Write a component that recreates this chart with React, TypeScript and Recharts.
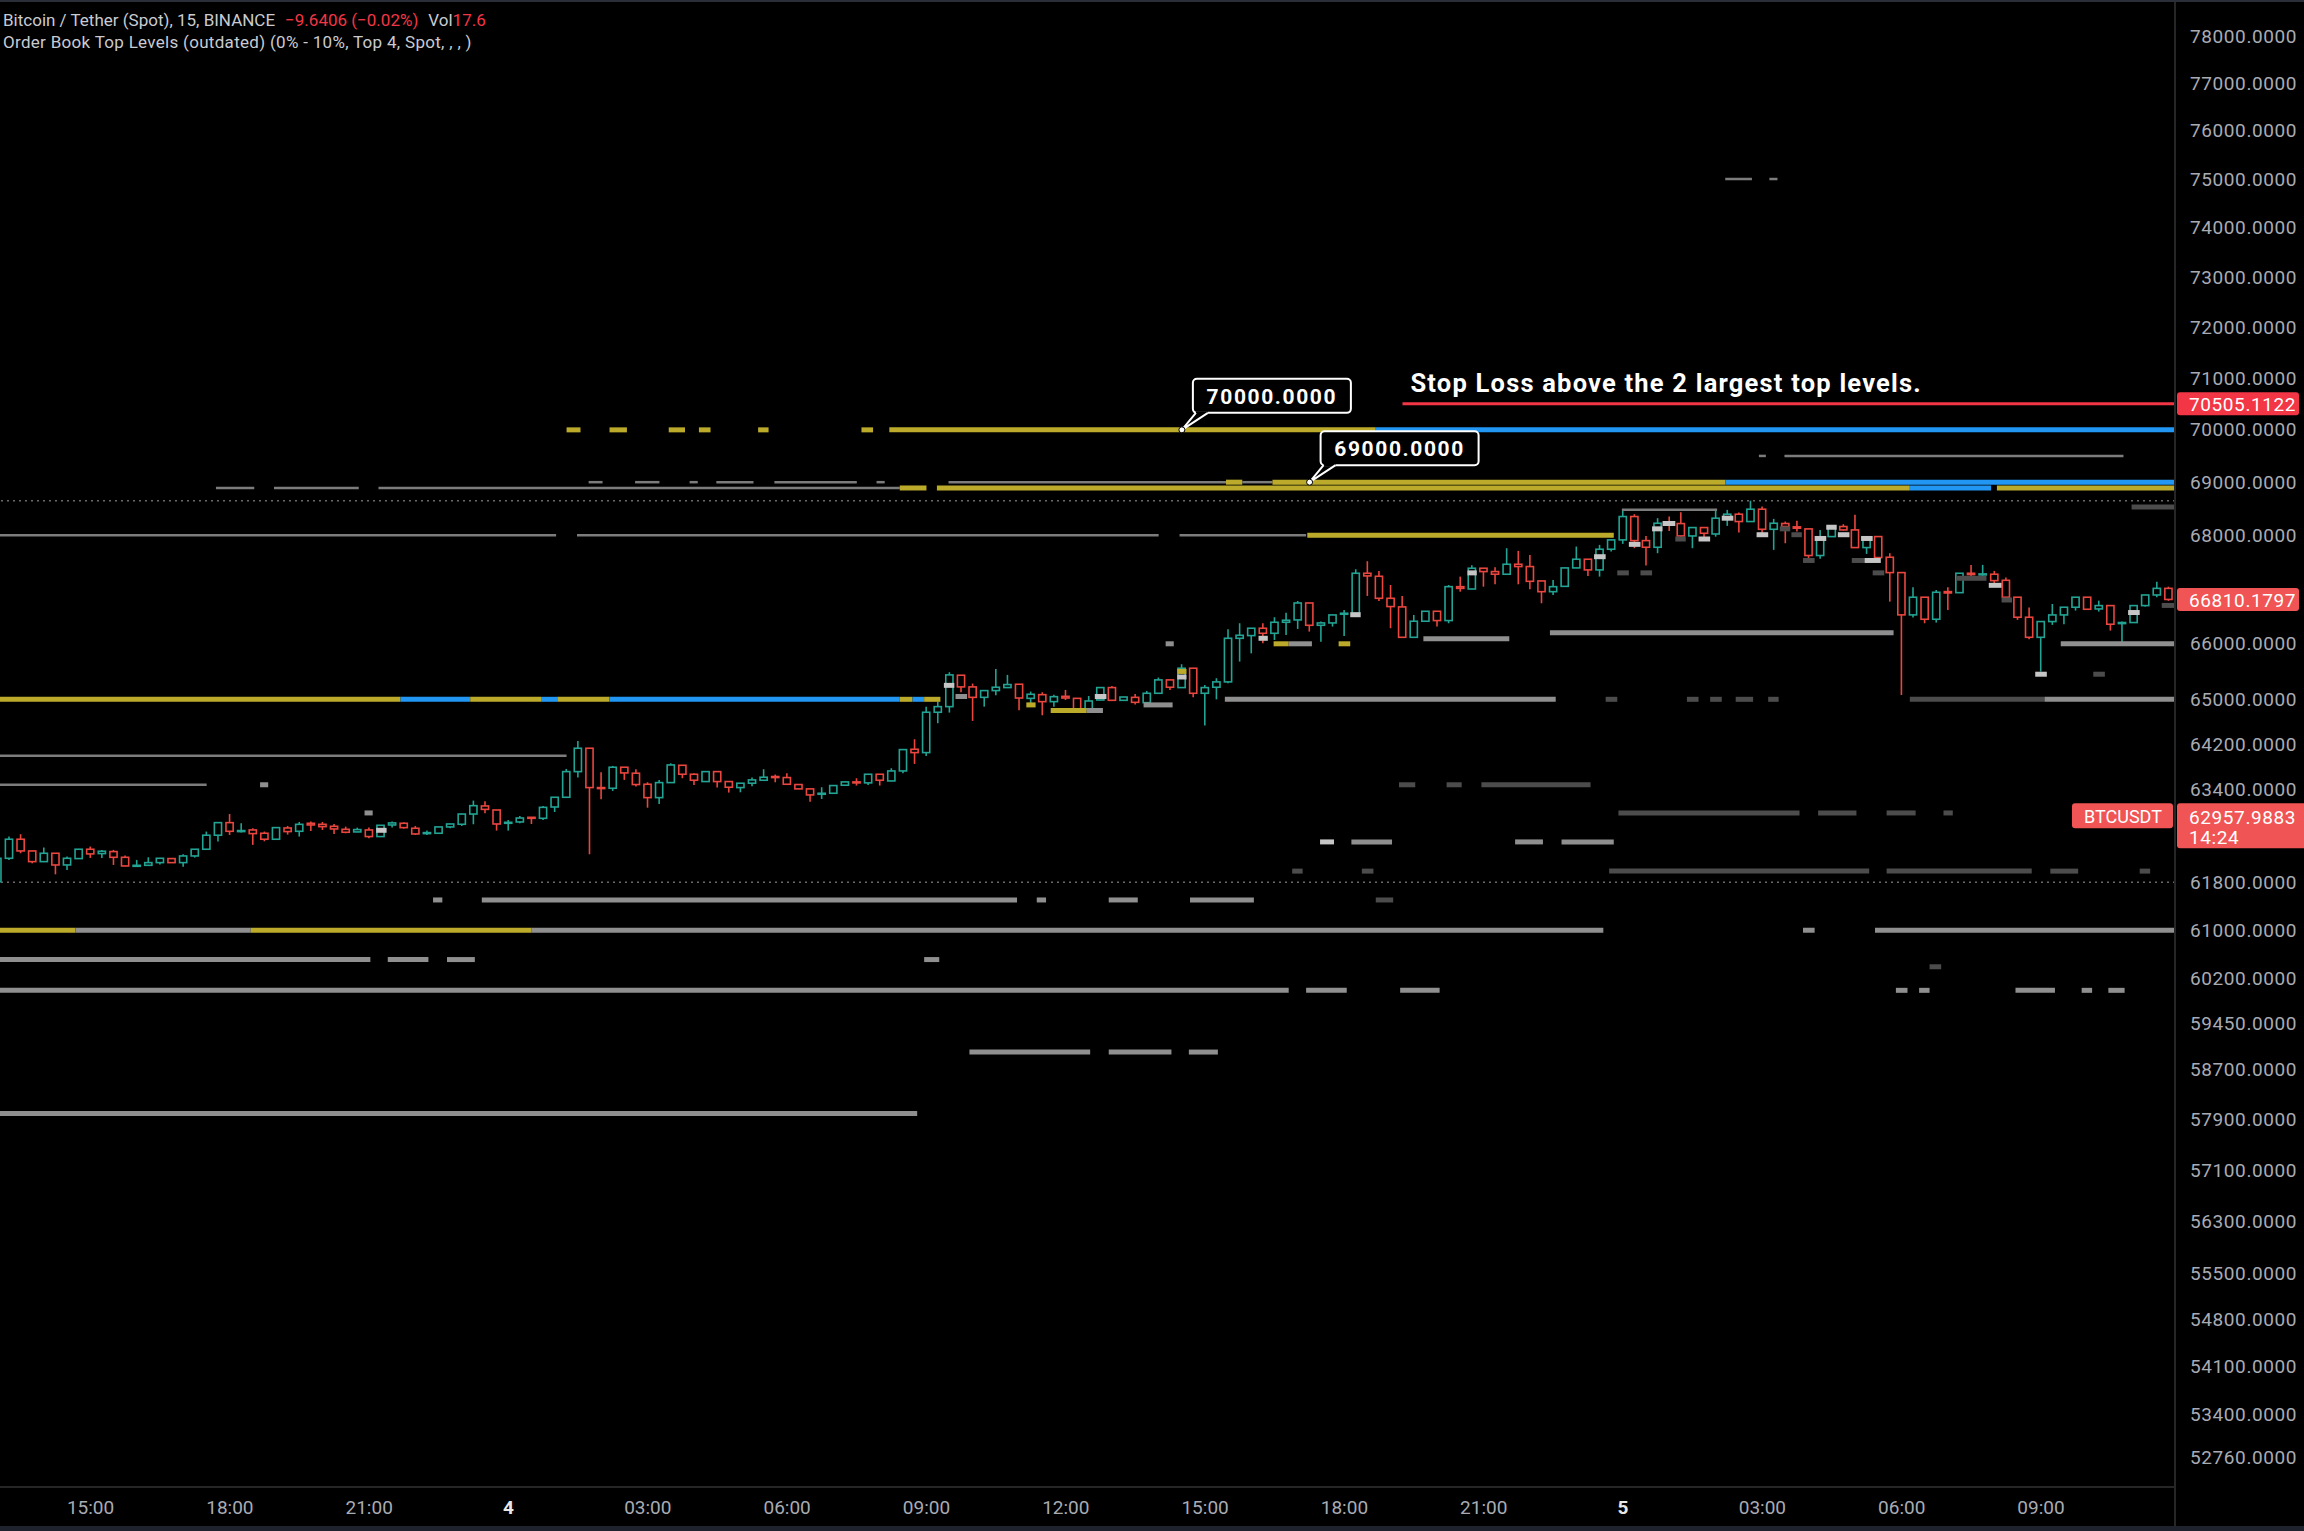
import { ComposedChart, Bar, XAxis, YAxis, ReferenceLine, ReferenceDot } from 'recharts';

// 15m BTCUSDT candles, first bar = day 3 13:00 (bar index -44, index 0 = day 4 00:00)
const FIRST_BAR = -44;
// [open, high, low, close]
const CANDLES: [number, number, number, number][] = [
  [61819, 62222, 61802, 62219], [62219, 62592, 62191, 62546], [62546, 62632, 62305, 62345], [62345, 62350, 62133, 62162],
  [62162, 62403, 62160, 62305], [62305, 62310, 61945, 62105], [62105, 62248, 62019, 62219], [62214, 62380, 62210, 62374],
  [62374, 62420, 62225, 62294], [62300, 62363, 62225, 62340], [62334, 62363, 62105, 62236], [62236, 62265, 62085, 62088],
  [62088, 62191, 62085, 62099], [62099, 62236, 62095, 62145], [62145, 62222, 62111, 62219], [62214, 62218, 62140, 62145],
  [62145, 62288, 62076, 62259], [62259, 62378, 62231, 62374], [62374, 62678, 62370, 62615], [62615, 62836, 62506, 62832],
  [62832, 62981, 62620, 62683], [62683, 62821, 62660, 62695], [62706, 62735, 62449, 62643], [62649, 62678, 62511, 62546],
  [62546, 62750, 62540, 62746], [62740, 62775, 62626, 62678], [62683, 62844, 62592, 62803], [62821, 62850, 62689, 62792],
  [62803, 62844, 62706, 62763], [62769, 62809, 62637, 62723], [62717, 62763, 62649, 62666], [62672, 62746, 62668, 62712],
  [62706, 62746, 62563, 62592], [62592, 62790, 62588, 62786], [62792, 62850, 62746, 62827], [62821, 62838, 62729, 62746],
  [62735, 62775, 62620, 62637], [62649, 62695, 62620, 62660], [62649, 62762, 62645, 62758], [62758, 62812, 62735, 62809],
  [62804, 62985, 62775, 62981], [62981, 63214, 62804, 63126], [63121, 63202, 62993, 63062], [63051, 63055, 62695, 62809],
  [62821, 62878, 62695, 62838], [62844, 62947, 62821, 62912], [62924, 62928, 62809, 62907], [62907, 63121, 62878, 63097],
  [63103, 63276, 63016, 63272], [63272, 63767, 63268, 63720], [63720, 64261, 63616, 64131], [64131, 64135, 62288, 63441],
  [63441, 63709, 63237, 63424], [63429, 63820, 63383, 63797], [63797, 63800, 63575, 63697], [63692, 63762, 63459, 63494],
  [63499, 63534, 63091, 63266], [63266, 63575, 63156, 63528], [63528, 63866, 63524, 63837], [63831, 63835, 63604, 63674],
  [63674, 63692, 63488, 63569], [63546, 63724, 63542, 63720], [63720, 63724, 63441, 63546], [63546, 63550, 63354, 63447],
  [63441, 63520, 63359, 63517], [63517, 63616, 63465, 63575], [63569, 63762, 63565, 63622], [63634, 63668, 63534, 63616],
  [63616, 63692, 63495, 63499], [63494, 63498, 63414, 63418], [63418, 63420, 63196, 63313], [63325, 63447, 63243, 63342],
  [63342, 63480, 63338, 63476], [63482, 63544, 63478, 63540], [63540, 63604, 63476, 63523], [63523, 63678, 63488, 63674],
  [63674, 63678, 63476, 63569], [63557, 63779, 63553, 63732], [63732, 64111, 63692, 64107], [64113, 64290, 63855, 64054],
  [64054, 64869, 63995, 64769], [64769, 64958, 64574, 64869], [64869, 65486, 64763, 65438], [65432, 65436, 65126, 65222],
  [65222, 65282, 64615, 65035], [65035, 65160, 64869, 65156], [65156, 65546, 65071, 65216], [65210, 65438, 65206, 65264],
  [65270, 65274, 64804, 65023], [65017, 65138, 64869, 65090], [65083, 65126, 64715, 64958], [64958, 65083, 64869, 65047],
  [65053, 65168, 64988, 65023], [65017, 65020, 64798, 64828], [64828, 65059, 64824, 64970], [64988, 65214, 64984, 65210],
  [65210, 65240, 64978, 64982], [64982, 65045, 64978, 65041], [65035, 65095, 64905, 64946], [64940, 65150, 64936, 65108],
  [65108, 65390, 65104, 65348], [65348, 65352, 65168, 65216], [65210, 65630, 65206, 65558], [65558, 65562, 65035, 65108],
  [65108, 65258, 64532, 65210], [65216, 65378, 64999, 65312], [65312, 66264, 65288, 66100], [66100, 66374, 65678, 66155],
  [66149, 66287, 65827, 66283], [66283, 66374, 66009, 66191], [66191, 66484, 66069, 66392], [66392, 66568, 66161, 66429],
  [66435, 66782, 66270, 66745], [66745, 66749, 66222, 66337], [66337, 66405, 66039, 66380], [66380, 66530, 66313, 66526],
  [66539, 66618, 66143, 66557], [66557, 67367, 66553, 67293], [67293, 67516, 66874, 67244], [67237, 67336, 66783, 66831],
  [66831, 67076, 66283, 66679], [66673, 66874, 66114, 66118], [66118, 66526, 66114, 66411], [66411, 66597, 66407, 66593],
  [66593, 66597, 66313, 66423], [66423, 67076, 66374, 67045], [67045, 67231, 66953, 67014], [67002, 67442, 66998, 67386],
  [67386, 67390, 67045, 67324], [67324, 67405, 67089, 67275], [67275, 67758, 67271, 67460], [67460, 67708, 67089, 67417],
  [67417, 67634, 66996, 67144], [67151, 67155, 66740, 66953], [66953, 67169, 66892, 67045], [67051, 67396, 67047, 67392],
  [67392, 67789, 67388, 67553], [67553, 67557, 67244, 67355], [67355, 67820, 67231, 67739], [67739, 67917, 67696, 67913],
  [67913, 68495, 67839, 68351], [68351, 68395, 67758, 67900], [67900, 67987, 67435, 67776], [67776, 68320, 67665, 68225],
  [68238, 68351, 68080, 68213], [68219, 68432, 67925, 67987], [67987, 68148, 67758, 68144], [68144, 68148, 67913, 68037],
  [68024, 68495, 67974, 68320], [68338, 68476, 68175, 68395], [68395, 68426, 68050, 68257], [68257, 68650, 68253, 68489],
  [68489, 68539, 68018, 68112], [68112, 68307, 67727, 68225], [68220, 68257, 67851, 68163], [68157, 68270, 68069, 68132],
  [68119, 68123, 67529, 67622], [67622, 68100, 67560, 67963], [67975, 68167, 67971, 68163], [68163, 68207, 68088, 68100],
  [68100, 68383, 67766, 67770], [67770, 67967, 67652, 67963], [67975, 67979, 67580, 67584], [67590, 67665, 66770, 67305],
  [67305, 67309, 65077, 66527], [66527, 67033, 66478, 66851], [66851, 66855, 66374, 66447], [66447, 66984, 66386, 66942],
  [66954, 67033, 66618, 66929], [66935, 67297, 66931, 67293], [67293, 67448, 67182, 67268], [67262, 67448, 67169, 67281],
  [67275, 67336, 67058, 67157], [67163, 67213, 66847, 66851], [66851, 66855, 66435, 66484], [66484, 66660, 66082, 66118],
  [66118, 66409, 65498, 66405], [66405, 66727, 66344, 66526], [66526, 66671, 66356, 66667], [66667, 66855, 66606, 66851],
  [66851, 66855, 66626, 66630], [66636, 66788, 66587, 66697], [66697, 66701, 66240, 66356], [66368, 66405, 66021, 66387],
  [66387, 66701, 66383, 66697], [66697, 66896, 66679, 66892], [66892, 67138, 66851, 67014], [67014, 67045, 66784, 66810.1797],
];

// order book levels: [price, fromBar, toBar, kind]
// Y yellow, B blue, G gray, W light, D dark, g thin gray
const LEVELS: [number, number, number, string][] = [
  [75000, 104.8, 107.1, 'g'], [75000, 108.6, 109.3, 'g'],
  [70000, 5.0, 6.2, 'Y'], [70000, 8.7, 10.2, 'Y'], [70000, 13.8, 15.2, 'Y'], [70000, 16.4, 17.4, 'Y'],
  [70000, 21.5, 22.4, 'Y'], [70000, 30.4, 31.4, 'Y'], [70000, 32.8, 74.7, 'Y'], [70000, 74.7, 143.5, 'B'],
  [69500, 107.7, 108.3, 'g'], [69500, 109.9, 139.1, 'g'],
  [69000, 6.9, 8.1, 'g'], [69000, 10.9, 13.0, 'g'], [69000, 15.6, 16.3, 'g'], [69000, 17.9, 21.1, 'g'],
  [69000, 22.9, 30.0, 'g'], [69000, 31.7, 32.4, 'g'], [69000, 37.9, 61.8, 'g'], [69000, 61.8, 63.2, 'Y'],
  [69000, 63.2, 65.8, 'g'], [69000, 65.8, 104.8, 'Y'], [69000, 104.8, 143.5, 'B'],
  [68890, -25.2, -21.9, 'g'], [68890, -20.2, -12.9, 'g'], [68890, -11.2, 33.7, 'g'], [68890, 33.7, 36.0, 'Y'],
  [68890, 36.9, 120.7, 'Y'], [68890, 120.7, 127.7, 'B'], [68890, 128.2, 143.5, 'Y'],
  [68530, 139.8, 143.5, 'D'], [68480, 95.9, 104.1, 'g'],
  [68000, -43.8, 4.1, 'g'], [68000, 5.9, 56.0, 'g'], [68000, 57.8, 68.7, 'g'], [68000, 68.8, 95.2, 'Y'],
  [66200, 89.7, 119.3, 'G'], [66090, 78.8, 86.2, 'G'],
  [66000, 56.6, 57.3, 'G'], [66000, 65.9, 67.2, 'Y'], [66000, 67.2, 69.2, 'G'], [66000, 71.5, 72.5, 'Y'], [66000, 133.7, 143.5, 'G'],
  [65000, -43.8, -9.3, 'Y'], [65000, -9.3, -3.3, 'B'], [65000, -3.3, 2.8, 'Y'], [65000, 2.8, 4.2, 'B'],
  [65000, 4.2, 8.7, 'Y'], [65000, 8.7, 33.7, 'B'], [65000, 33.7, 34.8, 'Y'], [65000, 34.8, 35.8, 'B'], [65000, 35.8, 37.2, 'Y'],
  [65000, 61.7, 90.2, 'G'], [65000, 94.5, 95.5, 'D'], [65000, 101.5, 102.5, 'D'], [65000, 103.5, 104.5, 'D'],
  [65000, 105.7, 107.2, 'D'], [65000, 108.5, 109.4, 'D'], [65000, 120.7, 132.3, 'D'], [65000, 132.3, 143.5, 'G'],
  [64000, -43.8, 5.0, 'g'],
  [63490, -43.8, -26.0, 'g'], [63490, -21.4, -20.7, 'G'], [63490, 76.7, 78.1, 'D'], [63490, 80.8, 82.1, 'D'], [63490, 83.8, 93.2, 'D'],
  [63000, -12.4, -11.7, 'G'], [63000, 95.6, 111.2, 'D'], [63000, 112.8, 116.1, 'D'], [63000, 118.7, 121.2, 'D'], [63000, 123.6, 124.4, 'D'],
  [62700, -11.4, -10.5, 'W'],
  [62500, 69.9, 71.1, 'W'], [62500, 72.6, 76.1, 'G'], [62500, 86.7, 89.1, 'G'], [62500, 90.7, 95.2, 'G'],
  [62000, 67.5, 68.4, 'D'], [62000, 73.5, 74.5, 'D'], [62000, 94.8, 117.2, 'D'], [62000, 118.7, 131.2, 'D'],
  [62000, 132.8, 135.2, 'D'], [62000, 140.5, 141.4, 'D'],
  [61510, -6.5, -5.7, 'G'], [61510, -2.3, 43.8, 'G'], [61510, 45.5, 46.3, 'G'], [61510, 51.7, 54.2, 'G'],
  [61510, 58.7, 64.2, 'G'], [61510, 74.7, 76.2, 'D'],
  [61000, -43.8, -37.3, 'Y'], [61000, -37.3, -22.2, 'G'], [61000, -22.2, 2.0, 'Y'], [61000, 2.0, 94.3, 'G'],
  [61000, 111.5, 112.5, 'G'], [61000, 117.7, 143.5, 'G'],
  [60510, -43.8, -11.9, 'G'], [60510, -10.4, -6.9, 'G'], [60510, -5.3, -2.9, 'G'], [60510, 35.8, 37.1, 'G'],
  [60390, 122.4, 123.4, 'D'],
  [60000, -43.8, 67.2, 'G'], [60000, 68.7, 72.2, 'G'], [60000, 76.8, 80.2, 'G'], [60000, 119.5, 120.5, 'G'],
  [60000, 121.5, 122.4, 'G'], [60000, 129.8, 133.2, 'G'], [60000, 135.5, 136.4, 'G'], [60000, 137.8, 139.2, 'G'],
  [58990, 39.7, 50.1, 'G'], [58990, 51.7, 57.1, 'G'], [58990, 58.6, 61.1, 'G'],
  [58000, -43.8, 35.2, 'G'],
  // short levels sitting on the candles
  [65250, 37.5, 38.4, 'W'], [65050, 38.5, 39.5, 'G'], [64900, 44.6, 45.4, 'Y'], [64800, 46.7, 49.8, 'Y'],
  [64800, 49.8, 51.2, 'G'], [65050, 50.5, 51.5, 'W'], [64900, 54.7, 57.2, 'G'], [65500, 57.6, 58.4, 'Y'],
  [65400, 57.6, 58.4, 'W'], [66100, 64.6, 65.4, 'W'], [66530, 72.5, 73.4, 'W'], [67300, 82.6, 83.4, 'W'],
  [67600, 93.5, 94.5, 'W'], [67300, 95.5, 96.5, 'D'], [67830, 96.5, 97.5, 'W'], [67300, 97.5, 98.5, 'D'],
  [68120, 98.5, 99.4, 'W'], [68220, 99.4, 100.5, 'W'], [67930, 100.5, 101.4, 'D'], [67930, 102.5, 103.5, 'W'],
  [68320, 104.5, 105.5, 'W'], [68010, 107.5, 108.5, 'W'], [68120, 109.5, 110.4, 'D'], [68010, 110.5, 111.4, 'D'],
  [67530, 111.5, 112.5, 'D'], [67940, 112.5, 113.5, 'W'], [68150, 113.5, 114.4, 'W'], [68010, 114.5, 115.5, 'W'],
  [67530, 115.7, 116.8, 'D'], [67530, 116.8, 118.2, 'W'], [67940, 116.5, 117.5, 'W'], [67300, 117.5, 118.5, 'D'],
  [67200, 124.7, 127.3, 'D'], [67070, 127.5, 128.6, 'W'], [66800, 128.6, 129.5, 'D'], [65450, 131.5, 132.5, 'W'],
  [65450, 136.5, 137.5, 'D'], [66570, 139.5, 140.5, 'W'], [66700, 142.4, 143.5, 'D'],
];

const PRICE_TICKS = [
  78000, 77000, 76000, 75000, 74000, 73000, 72000, 71000, 70000, 69000, 68000, 66000, 65000, 64200,
  63400, 61800, 61000, 60200, 59450, 58700, 57900, 57100, 56300, 55500, 54800, 54100, 53400, 52760,
];
const TIME_TICKS = [-36, -24, -12, 0, 12, 24, 36, 48, 60, 72, 84, 96, 108, 120, 132];
const TIME_LABELS = ['15:00', '18:00', '21:00', '4', '03:00', '06:00', '09:00', '12:00', '15:00', '18:00', '21:00', '5', '03:00', '06:00', '09:00'];

const STOP_LOSS = 70505.1122;
const STOP_FROM = 77;
const LAST_PRICE = 66810.1797;
const CURRENT_PRICE = 62957.9883;
const RANGE_HIGH = 68650;
const RANGE_LOW = 61811;
const CALLOUTS = [
  { bar: 58, price: 70000 },
  { bar: 69, price: 69000 },
];

const UP = '#22a393';
const DOWN = '#e8463f';
const KIND_STYLE: Record<string, { color: string; width: number }> = {
  Y: { color: '#bcab2b', width: 5 },
  B: { color: '#2196f3', width: 5 },
  G: { color: '#8f8f8f', width: 5 },
  W: { color: '#c6c6c6', width: 5 },
  D: { color: '#4c4c4c', width: 5 },
  g: { color: '#7c7c7c', width: 2.5 },
};

const FONT = 'Roboto, "Liberation Sans", sans-serif';

const data = CANDLES.map(([o, h, l, c], i) => ({ bar: FIRST_BAR + i, o, h, l, c, range: [l, h] }));

function Candle(props: any) {
  const { x, y, width, height, payload } = props;
  const { o, h, l, c } = payload;
  const top = Math.min(y, y + height);
  const bot = Math.max(y, y + height);
  const lh = Math.log(h);
  const ll = Math.log(l);
  // log scale: place open/close between the high and low pixels
  const py = (v: number) => (lh === ll ? top : top + ((bot - top) * (lh - Math.log(v))) / (lh - ll));
  const cx = x + width / 2;
  const color = c >= o ? UP : DOWN;
  const bt = py(Math.max(o, c));
  const bb = py(Math.min(o, c));
  return (
    <g>
      <line x1={cx} x2={cx} y1={top} y2={bt} stroke={color} strokeWidth={1.6} />
      <line x1={cx} x2={cx} y1={bb} y2={bot} stroke={color} strokeWidth={1.6} />
      <rect x={cx - 3.6} y={bt} width={7.2} height={Math.max(bb - bt, 1)} fill="#000" stroke={color} strokeWidth={1.6} />
    </g>
  );
}

function PriceTick({ x, y, payload }: any) {
  return (
    <text x={x + 7} y={y} fill="#a9abb3" fontSize={19} fontFamily={FONT} letterSpacing={0.6} dominantBaseline="central">
      {payload.value.toFixed(4)}
    </text>
  );
}

function TimeTick({ x, y, payload }: any) {
  const label = TIME_LABELS[TIME_TICKS.indexOf(payload.value)];
  const isDay = label.length === 1;
  return (
    <text x={x} y={y + 12} fill={isDay ? '#e8e8e8' : '#a9abb3'} fontSize={19} fontWeight={isDay ? 700 : 400}
      fontFamily={FONT} textAnchor="middle" dominantBaseline="central">
      {label}
    </text>
  );
}

function Tag({ viewBox, text, color }: any) {
  const right = viewBox.x + viewBox.width;
  const y = viewBox.y;
  return (
    <g>
      <rect x={right + 2} y={y - 11.5} width={122} height={23} rx={3} fill={color} />
      <text x={right + 14} y={y + 1} fill="#fff" fontSize={19} fontFamily={FONT} letterSpacing={0.6} dominantBaseline="central">
        {text}
      </text>
    </g>
  );
}

function StopLossLabel({ viewBox }: any) {
  const left = viewBox.x;
  const right = viewBox.x + viewBox.width;
  const y = viewBox.y;
  return (
    <g>
      <text x={left + 8} y={y - 12} fill="#fff" fontSize={25.5} fontWeight={700} fontFamily={FONT} letterSpacing={1.2}>
        Stop Loss above the 2 largest top levels.
      </text>
      <rect x={right + 2} y={y - 11.5} width={122} height={23} rx={3} fill="#f23645" />
      <text x={right + 14} y={y + 1} fill="#fff" fontSize={19} fontFamily={FONT} letterSpacing={0.6} dominantBaseline="central">
        {STOP_LOSS.toFixed(4)}
      </text>
    </g>
  );
}

function CurrentPriceLabel({ viewBox }: any) {
  const right = viewBox.x + viewBox.width;
  const y = viewBox.y;
  return (
    <g>
      <rect x={right - 103} y={y - 12} width={101} height={25} rx={3} fill="#f05454" />
      <text x={right - 52} y={y + 1} fill="#fff" fontSize={18} fontFamily={FONT} textAnchor="middle" dominantBaseline="central">
        BTCUSDT
      </text>
      <rect x={right + 2} y={y - 12} width={140} height={45} rx={3} fill="#f05454" />
      <text x={right + 14} y={y + 2} fill="#fff" fontSize={19} fontFamily={FONT} letterSpacing={0.6} dominantBaseline="central">
        {CURRENT_PRICE.toFixed(4)}
      </text>
      <text x={right + 14} y={y + 22} fill="#fff" fontSize={19} fontFamily={FONT} letterSpacing={0.6} dominantBaseline="central">
        14:24
      </text>
    </g>
  );
}

function Callout({ cx, cy, text }: any) {
  return (
    <g>
      <rect x={cx + 11} y={cy - 51} width={158} height={34} rx={4} fill="#000" stroke="#fff" strokeWidth={2} />
      <line x1={cx + 14} x2={cx + 26} y1={cy - 17} y2={cy - 17} stroke="#000" strokeWidth={3} />
      <polyline points={`${cx + 14},${cy - 17} ${cx},${cy} ${cx + 26},${cy - 17}`} fill="none" stroke="#fff" strokeWidth={2} />
      <circle cx={cx} cy={cy} r={3} fill="#fff" stroke="#000" strokeWidth={1} />
      <text x={cx + 90} y={cy - 33} fill="#fff" fontSize={21} fontWeight={700} fontFamily={FONT} letterSpacing={1.6}
        textAnchor="middle" dominantBaseline="central">
        {text}
      </text>
    </g>
  );
}

export default function App() {
  return (
    <div style={{ position: 'absolute', left: 0, top: 0, width: 2304, height: 1531, background: '#000', overflow: 'hidden' }}>
      <ComposedChart width={2304} height={1531} data={data} margin={{ top: 0, right: 0, bottom: 0, left: 0 }}>
        <XAxis
          dataKey="bar"
          type="number"
          domain={[-43.8, 143.54]}
          allowDataOverflow
          ticks={TIME_TICKS}
          interval={0}
          height={44}
          axisLine={{ stroke: '#262626', strokeWidth: 2 }}
          tickLine={false}
          tick={<TimeTick />}
        />
        <YAxis
          orientation="right"
          type="number"
          scale="log"
          domain={[52339, 78785]}
          allowDataOverflow
          ticks={PRICE_TICKS}
          interval={0}
          width={129}
          axisLine={{ stroke: '#262626', strokeWidth: 2 }}
          tickLine={false}
          tick={<PriceTick />}
        />
        <ReferenceLine y={RANGE_HIGH} stroke="#6a6a6a" strokeWidth={1.5} strokeDasharray="2 4" />
        <ReferenceLine y={RANGE_LOW} stroke="#6a6a6a" strokeWidth={1.5} strokeDasharray="2 4" />
        <Bar dataKey="range" barSize={9} shape={<Candle />} isAnimationActive={false} />
        {LEVELS.map(([price, from, to, kind], i) => (
          <ReferenceLine
            key={'lvl' + i}
            segment={[{ x: from, y: price }, { x: to, y: price }]}
            stroke={KIND_STYLE[kind].color}
            strokeWidth={KIND_STYLE[kind].width}
            ifOverflow="visible"
          />
        ))}
        <ReferenceLine
          segment={[{ x: STOP_FROM, y: STOP_LOSS }, { x: 143.54, y: STOP_LOSS }]}
          stroke="#f23645"
          strokeWidth={3}
          ifOverflow="visible"
          label={(p: any) => <StopLossLabel viewBox={p.viewBox} />}
        />
        {CALLOUTS.map((c) => (
          <ReferenceDot
            key={c.price}
            x={c.bar}
            y={c.price}
            r={3}
            ifOverflow="visible"
            shape={(p: any) => <Callout cx={p.cx} cy={p.cy} text={c.price.toFixed(4)} />}
          />
        ))}
        <ReferenceLine y={LAST_PRICE} stroke="none" label={(p: any) => <Tag viewBox={p.viewBox} text={LAST_PRICE.toFixed(4)} color="#f05454" />} />
        <ReferenceLine y={CURRENT_PRICE} stroke="none" label={(p: any) => <CurrentPriceLabel viewBox={p.viewBox} />} />
      </ComposedChart>

      <div style={{ position: 'absolute', left: 0, top: 0, width: 2304, height: 2, background: '#2a2e39' }} />
      <div style={{ position: 'absolute', left: 0, top: 1526, width: 2304, height: 5, background: '#1e222d' }} />
      <div style={{ position: 'absolute', left: 2174, top: 1487, width: 2, height: 40, background: '#262626' }} />
      <div style={{ position: 'absolute', left: 3, top: 9, fontFamily: FONT, fontSize: 17, color: '#c9cbd1', whiteSpace: 'nowrap', lineHeight: '22px' }}>
        Bitcoin / Tether (Spot), 15, BINANCE
        <span style={{ color: '#f23645', marginLeft: 10 }}>−9.6406 (−0.02%)</span>
        <span style={{ marginLeft: 10 }}>Vol</span>
        <span style={{ color: '#f23645' }}>17.6</span>
      </div>
      <div style={{ position: 'absolute', left: 3, top: 31, fontFamily: FONT, fontSize: 17, letterSpacing: 0.3, color: '#c9cbd1', whiteSpace: 'nowrap', lineHeight: '22px' }}>
        Order Book Top Levels (outdated) (0% - 10%, Top 4, Spot, , , )
      </div>
    </div>
  );
}
